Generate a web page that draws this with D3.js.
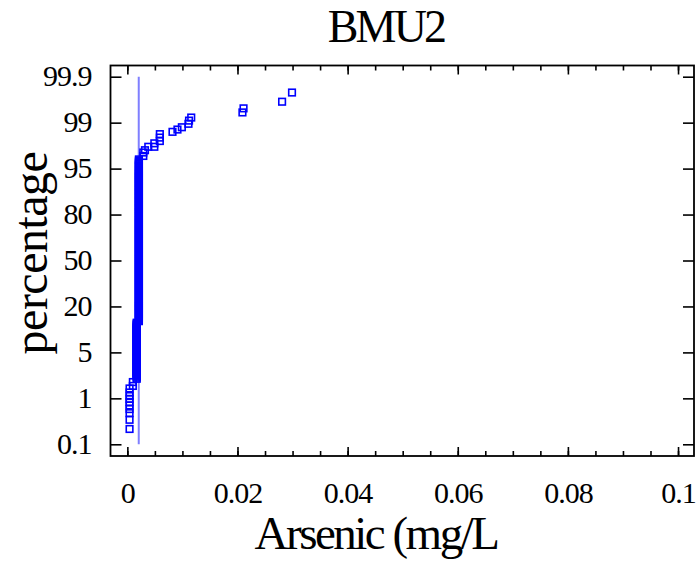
<!DOCTYPE html>
<html>
<head>
<meta charset="utf-8">
<script src="https://cdn.jsdelivr.net/npm/d3@7"></script>
<style>
  html, body { margin: 0; padding: 0; background: #fff; }
  svg { display: block; }
  text { font-family: "Liberation Serif", "Times New Roman", serif; fill: #000; }
</style>
</head>
<body>
<svg id="chart" width="696" height="562"></svg>
<script>
// ---------------- data ----------------
const titleText = "BMU2";
const xLabel = "Arsenic (mg/L";
const yLabel = "percentage";

const xTickValues = [0, 0.02, 0.04, 0.06, 0.08, 0.1];
const xTickLabels = ["0", "0.02", "0.04", "0.06", "0.08", "0.1"];
const yTickValues = [0.1, 1, 5, 20, 50, 80, 95, 99, 99.9];
const yTickLabels = ["0.1", "1", "5", "20", "50", "80", "95", "99", "99.9"];

// repeated arsenic levels (many samples at the same concentration)
const levelArsenic = [0.0004, 0.0010, 0.0017, 0.0021];
const levelPercents = [
  [0.40, 0.58, 0.71, 0.79, 0.86, 0.93, 0.99, 1.20, 1.51, 1.86],
  [2.08, 2.42],
  [2.7, 2.8, 2.9, 3.0, 3.1, 3.15, 3.2, 3.3, 3.4, 3.5, 3.6, 3.7, 3.8, 3.85, 3.9, 4.0,
   4.1, 4.2, 4.3, 4.4, 4.5, 4.55, 4.6, 4.7, 4.8, 4.9, 5.0, 5.3, 5.6, 6.0, 6.3, 6.6,
   6.9, 7.3, 7.6, 7.9, 8.2, 8.6, 8.9, 9.2, 9.5, 9.9, 10.2, 10.5, 10.8, 11.2, 11.5,
   11.8, 12.1, 12.5, 12.8, 13.1, 13.4, 13.8, 14.1, 14.4, 14.7],
  [15.2, 15.5, 15.8, 16.2, 16.5, 16.8, 17.1, 17.5, 17.8, 18.1, 18.4, 18.8, 19.1, 19.4,
   19.7, 20.1, 20.4, 21.0, 21.7, 22.3, 23.0, 23.6, 24.3, 24.9, 25.6, 26.2, 26.9, 27.5,
   28.2, 28.8, 29.5, 30.1, 30.8, 31.4, 32.1, 32.7, 33.4, 34.0, 34.7, 35.3, 36.0, 36.6,
   37.3, 37.9, 38.6, 39.2, 39.9, 40.5, 41.2, 41.8, 42.5, 43.1, 43.8, 44.4, 45.1, 45.7,
   46.4, 47.0, 47.7, 48.3, 49.0, 49.6, 50.3, 50.9, 51.6, 52.2, 52.9, 53.5, 54.2, 54.8,
   55.5, 56.1, 56.8, 57.4, 58.1, 58.7, 59.4, 60.0, 60.7, 61.3, 62.0, 62.6, 63.3, 63.9,
   64.6, 65.2, 65.9, 66.5, 67.2, 67.8, 68.5, 69.1, 69.8, 70.4, 71.1, 71.7, 72.4, 73.0,
   73.7, 74.3, 75.0, 75.6, 76.3, 76.9, 77.6, 78.2, 78.9, 79.5, 80.2, 80.5, 80.8, 81.2,
   81.5, 81.8, 82.1, 82.5, 82.8, 83.1, 83.4, 83.8, 84.1, 84.4, 84.7, 85.1, 85.4, 85.7,
   86.0, 86.4, 86.7, 87.0, 87.3, 87.7, 88.0, 88.3, 88.6, 89.0, 89.3, 89.6, 89.9, 90.3,
   90.6, 90.9, 91.2, 91.6, 91.9, 92.2, 92.5, 92.9, 93.2, 93.5, 93.8, 94.2, 94.5, 94.8,
   95.1, 95.2, 95.3, 95.4, 95.5, 95.6, 95.7, 95.8]
];

// upper tail, individual samples
const tailArsenic = [0.0029, 0.0029, 0.0032, 0.0038, 0.0049, 0.0049, 0.0059, 0.0059, 0.0059,
  0.0082, 0.0091, 0.0099, 0.0111, 0.0112, 0.0116, 0.0209, 0.0211, 0.0281, 0.0299];
const tailPercents = [96.1, 96.4, 96.6, 96.9, 96.9, 97.2, 97.4, 97.7, 98.0,
  98.2, 98.4, 98.6, 98.9, 99.04, 99.10, 99.20, 99.28, 99.41, 99.59];

// reference line (median concentration)
const refArsenic = 0.00207;

// ---------------- layout ----------------
const svg = d3.select("#chart");
const pLeft = 110.5, pRight = 694, pTop = 65.5, pBottom = 456;
const yTickTop = 76.7, yTickBottom = 444.3;
const blue = "#0000ff";

const x = d3.scaleLinear().domain([-0.00306, 0.1029]).range([pLeft, pRight]);
const yRange = yTickValues.map((d, i) => yTickBottom - i * (yTickBottom - yTickTop) / (yTickValues.length - 1));
const y = d3.scaleLinear().domain(yTickValues).range(yRange);

// points
const points = [];
levelArsenic.forEach((a, i) => levelPercents[i].forEach(p => points.push([a, p])));
tailArsenic.forEach((a, i) => points.push([a, tailPercents[i]]));

// reference line
svg.append("line")
  .attr("x1", x(refArsenic)).attr("x2", x(refArsenic))
  .attr("y1", y(99.9)).attr("y2", y(0.1))
  .attr("stroke", "#7f7fff").attr("stroke-width", 2);

// markers
const s = 6.6;
svg.append("g").selectAll("rect").data(points).join("rect")
  .attr("x", d => x(d[0]) - s / 2)
  .attr("y", d => y(d[1]) - s / 2)
  .attr("width", s).attr("height", s)
  .attr("fill", "none").attr("stroke", blue).attr("stroke-width", 1.6);

// axes
const minorX = d3.range(0, 0.1001, 0.005);
function styleAxis(g) {
  g.select(".domain").remove();
  g.selectAll(".tick line").attr("stroke", "#000").attr("stroke-width", 1.6);
}
svg.append("g").attr("transform", `translate(0,${pBottom})`)
  .call(d3.axisBottom(x).tickValues(minorX).tickSize(-5).tickFormat(""))
  .call(styleAxis);
svg.append("g").attr("transform", `translate(0,${pTop})`)
  .call(d3.axisTop(x).tickValues(minorX).tickSize(-5).tickFormat(""))
  .call(styleAxis);
svg.append("g").attr("transform", `translate(0,${pTop})`)
  .call(d3.axisTop(x).tickValues(xTickValues).tickSize(-9).tickFormat(""))
  .call(styleAxis);
const xb = svg.append("g").attr("transform", `translate(0,${pBottom})`)
  .call(d3.axisBottom(x).tickValues(xTickValues).tickSize(-9)
    .tickPadding(0)
    .tickFormat((d, i) => xTickLabels[i]))
  .call(styleAxis);
xb.selectAll(".tick text")
  .attr("y", 47).attr("dy", null)
  .style("font-family", '"Liberation Serif", serif')
  .attr("font-size", 30).attr("letter-spacing", "-1px").attr("fill", "#000");

const yl = svg.append("g").attr("transform", `translate(${pLeft},0)`)
  .call(d3.axisLeft(y).tickValues(yTickValues).tickSize(-11)
    .tickFormat((d, i) => yTickLabels[i]))
  .call(styleAxis);
yl.selectAll(".tick text")
  .attr("x", -19).attr("dy", "0.3em")
  .style("font-family", '"Liberation Serif", serif')
  .attr("font-size", 30).attr("letter-spacing", "-1px").attr("fill", "#000");
svg.append("g").attr("transform", `translate(${pRight},0)`)
  .call(d3.axisRight(y).tickValues(yTickValues).tickSize(-11).tickFormat(""))
  .call(styleAxis);

// frame
svg.append("rect")
  .attr("x", pLeft).attr("y", pTop)
  .attr("width", pRight - pLeft).attr("height", pBottom - pTop)
  .attr("fill", "none").attr("stroke", "#000").attr("stroke-width", 1.8);

// title & labels
svg.append("text").attr("x", 386).attr("y", 42)
  .attr("text-anchor", "middle").attr("font-size", 46).attr("letter-spacing", "-2.8px")
  .text(titleText);
svg.append("text").attr("x", 376).attr("y", 549)
  .attr("text-anchor", "middle").attr("font-size", 47).attr("letter-spacing", "-2.5px")
  .text(xLabel);
svg.append("text")
  .attr("transform", "translate(47,253) rotate(-90)")
  .attr("text-anchor", "middle").attr("font-size", 48).attr("letter-spacing", "-0.5px")
  .text(yLabel);
</script>
</body>
</html>
